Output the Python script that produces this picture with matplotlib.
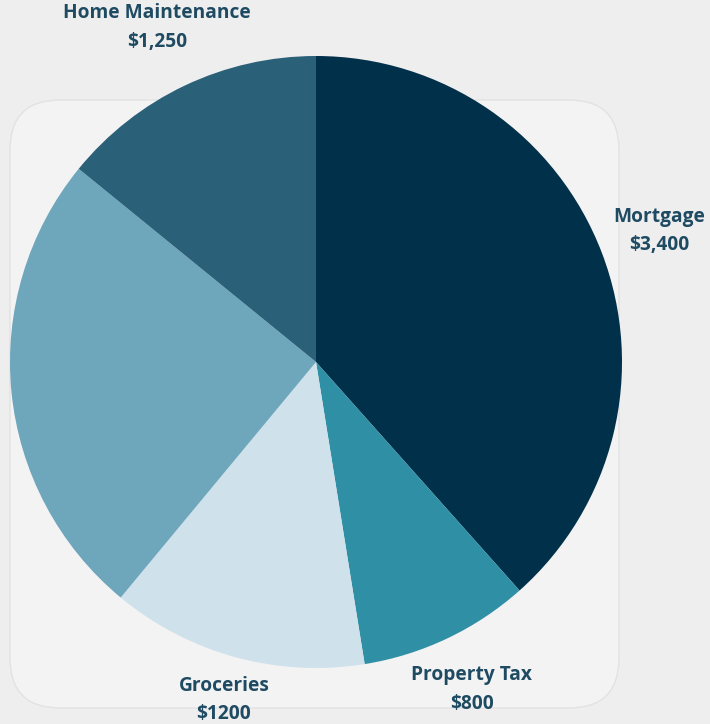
import matplotlib
matplotlib.use("Agg")
import numpy as np
import matplotlib.pyplot as plt
from matplotlib.patches import FancyBboxPatch

# data, clockwise from 12 o'clock
categories = ["Mortgage", "Property Tax", "Groceries", "", "Home Maintenance"]
values = [3400, 800, 1200, 2200, 1250]
value_labels = ["$3,400", "$800", "$1200", "", "$1,250"]
colors = ["#01304A", "#2F8FA4", "#CFE1EA", "#6EA6BC", "#2B6079"]

# how far out each label sits (fraction of radius)
label_dist = [1.2, 1.185, 1.145, 1.2, 1.21]

W, H = 710, 724
fig = plt.figure(figsize=(W / 100, H / 100), dpi=100)
fig.patch.set_facecolor("#EEEEEE")
ax = fig.add_axes([0, 0, 1, 1])

card = FancyBboxPatch((10, 16), 609, 608, boxstyle="round,pad=0,rounding_size=50",
                      facecolor="#F3F3F3", edgecolor="#E2E2E2", lw=1, zorder=0)
ax.add_patch(card)

cx, cy, r = 316, 362, 306
wedges, _ = ax.pie(values, colors=colors, startangle=90, counterclock=False,
                   center=(cx, cy), radius=r, frame=True,
                   wedgeprops=dict(linewidth=0))
ax.set_xlim(0, W)
ax.set_ylim(0, H)
ax.set_aspect("auto")
ax.axis("off")

for w, name, val, k in zip(wedges, categories, value_labels, label_dist):
    if not name:
        continue
    mid = np.deg2rad((w.theta1 + w.theta2) / 2)
    x = cx + r * k * np.cos(mid)
    y = cy + r * k * np.sin(mid)
    ax.text(x, y, name + "\n" + val, ha="center", va="center",
            fontsize=13.8, fontweight="bold", family="Open Sans",
            color="#1E4A62", linespacing=1.55)

fig.savefig("out.png", dpi=100, facecolor=fig.get_facecolor())
